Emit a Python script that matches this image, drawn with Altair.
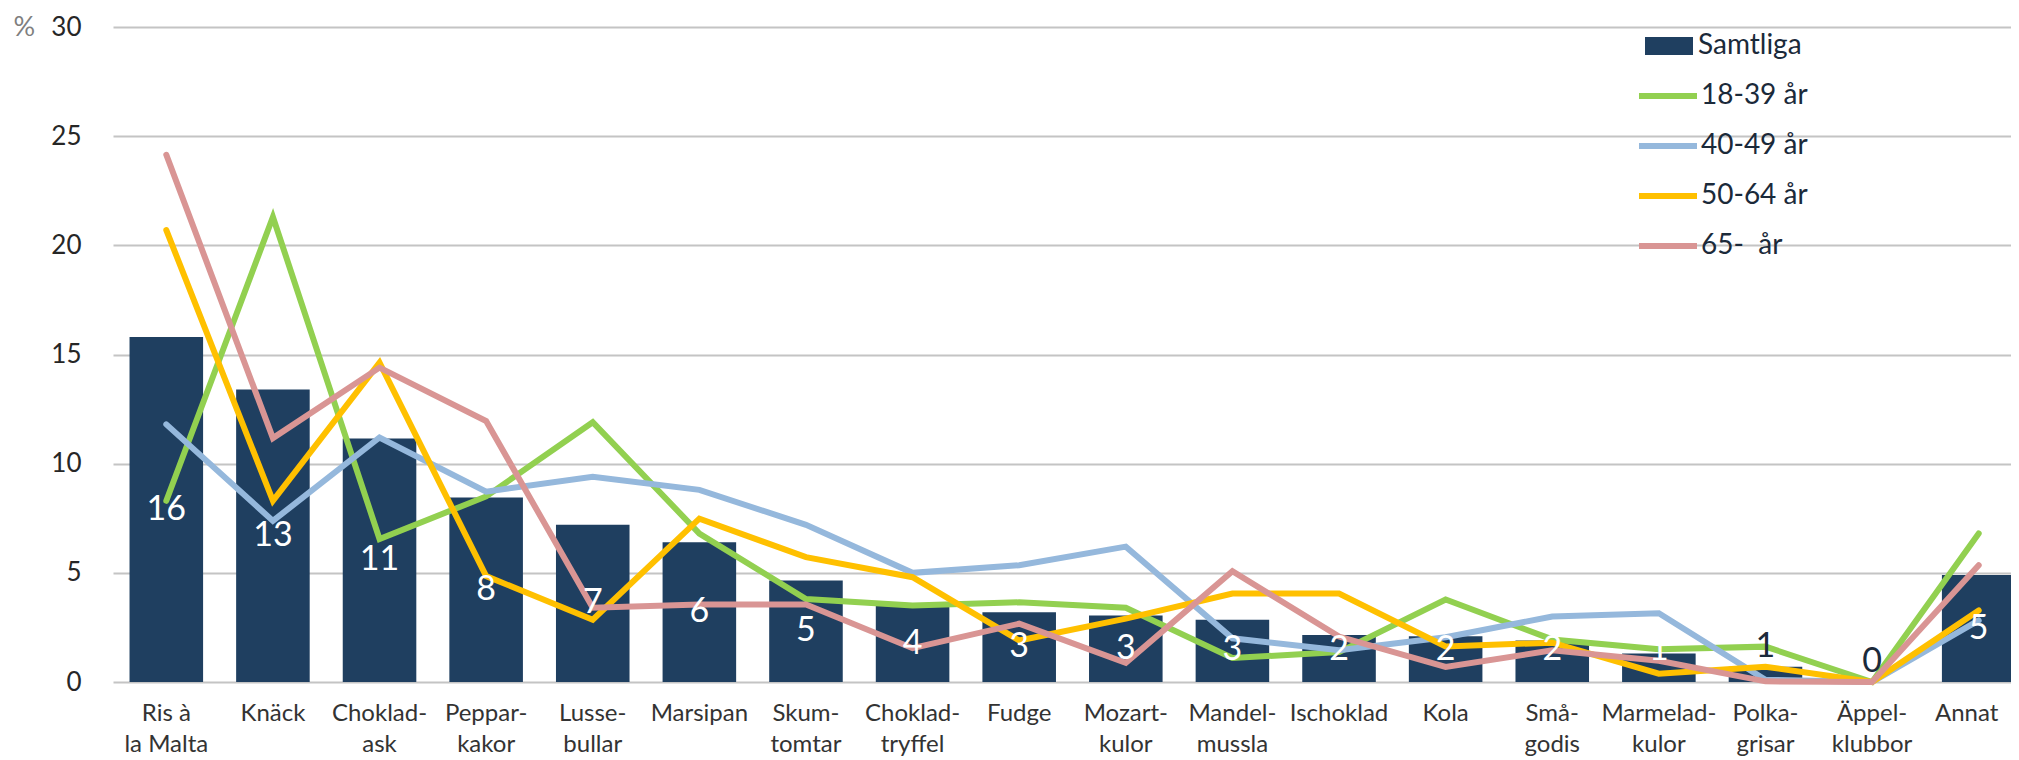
import altair as alt
import pandas as pd

# ---- data ----
categories = [
    "Ris à|la Malta", "Knäck", "Choklad-|ask", "Peppar-|kakor", "Lusse-|bullar",
    "Marsipan", "Skum-|tomtar", "Choklad-|tryffel", "Fudge", "Mozart-|kulor",
    "Mandel-|mussla", "Ischoklad", "Kola", "Små-|godis", "Marmelad-|kulor",
    "Polka-|grisar", "Äppel-|klubbor", "Annat",
]
samtliga = [15.8, 13.4, 11.15, 8.45, 7.2, 6.4, 4.65, 3.5, 3.2, 3.05,
            2.85, 2.15, 2.1, 1.9, 1.3, 0.7, 0.0, 4.9]
age_18_39 = [8.3, 21.3, 6.55, 8.5, 11.9, 6.8, 3.8, 3.5, 3.65, 3.4,
             1.1, 1.37, 3.78, 1.95, 1.5, 1.62, 0.0, 6.8]
age_40_49 = [11.8, 7.38, 11.2, 8.72, 9.4, 8.8, 7.2, 5.0, 5.35, 6.2,
             2.0, 1.45, 2.05, 3.0, 3.15, 0.1, 0.0, 2.82]
age_50_64 = [20.7, 8.3, 14.63, 4.85, 2.85, 7.48, 5.72, 4.8, 1.9, 2.9,
             4.05, 4.05, 1.63, 1.8, 0.38, 0.7, 0.0, 3.28]
age_65 = [24.15, 11.17, 14.4, 11.95, 3.4, 3.55, 3.55, 1.55, 2.67, 0.88,
          5.07, 2.08, 0.69, 1.45, 0.97, 0.03, 0.0, 5.35]

series_names = ["18-39 år", "40-49 år", "50-64 år", "65-\u00a0 år"]
series_colors = ["#92D050", "#95B8DC", "#FFC000", "#D99594"]
bar_name = "Samtliga"
bar_color = "#1F3F60"
y_ticks = [0, 5, 10, 15, 20, 25, 30]

# ---- tables ----
bar_df = pd.DataFrame({"cat": categories, "value": samtliga, "series": bar_name})
rows = []
for name, vals in zip(series_names, [age_18_39, age_40_49, age_50_64, age_65]):
    for i, (c, v) in enumerate(zip(categories, vals)):
        rows.append({"cat": c, "value": v, "series": name, "idx": i})
line_df = pd.DataFrame(rows)

FONT = "Lato"

x_enc = alt.X(
    "cat:N", sort=categories,
    scale=alt.Scale(paddingInner=0.31, paddingOuter=0.155),
    axis=alt.Axis(title=None, labelAngle=0, labelFontSize=24, labelColor="#333333",
                  labelPadding=19, labelLineHeight=31, ticks=False, domain=False,
                  labelOverlap=False, labelFont=FONT,
                  labelOffset={"expr": "datum.label == 'Annat' ? -12 : 0"},
                  labelExpr="split(datum.label, '|')"),
)
y_scale = alt.Scale(domain=[0, 30], nice=False)
y_axis = alt.Axis(values=y_ticks, title="%", titleAngle=0, titleX=-100, titleY=0,
                  titleAlign="left", titleBaseline="middle", titleColor="#7F7F7F",
                  titleFontSize=27, titleFontWeight="normal", titleFont=FONT,
                  labelFontSize=26, labelColor="#262626", labelPadding=32,
                  labelFont=FONT, ticks=False, domain=False,
                  gridColor="#C4C4C4", gridWidth=2)

bars = alt.Chart(bar_df).mark_bar().encode(
    x=x_enc,
    y=alt.Y("value:Q", scale=y_scale, axis=y_axis),
    fill=alt.Fill("series:N", scale=alt.Scale(domain=[bar_name], range=[bar_color]),
                  legend=alt.Legend(title=None, orient="none", legendX=1532, legendY=-5,
                                    symbolType="M-1,-0.375H1V0.375H-1Z", symbolSize=2304,
                                    symbolStrokeWidth=0, labelFontSize=28, labelFont=FONT,
                                    labelColor="#1B2A3A", labelOffset=5, padding=0)),
)

lines = alt.Chart(line_df).mark_line(strokeWidth=6, strokeCap="round").encode(
    x=x_enc,
    y=alt.Y("value:Q", scale=y_scale, axis=y_axis),
    stroke=alt.Stroke("series:N", sort=series_names,
                      scale=alt.Scale(domain=series_names, range=series_colors),
                      legend=alt.Legend(title=None, orient="none", legendX=1523, legendY=37,
                                        symbolType="stroke", symbolSize=3364,
                                        symbolStrokeWidth=6, labelFontSize=28,
                                        labelFont=FONT, labelColor="#1B2A3A",
                                        labelOffset=1, rowPadding=4, padding=0)),
    order="idx:O",
)

labels = alt.Chart(bar_df).transform_calculate(
    ly="datum.value < 1 ? datum.value + 0.9 : max(datum.value / 2, 1.45)"
).mark_text(fontSize=34, font=FONT, baseline="middle", align="center").encode(
    x=x_enc,
    y=alt.Y("ly:Q", scale=y_scale, axis=y_axis),
    text=alt.Text("value:Q", format=".0f"),
    color=alt.condition(alt.datum.value < 1, alt.value("#1B2A3A"), alt.value("white")),
)

chart = alt.layer(bars, lines, labels).properties(
    width=1919, height=655,
    padding={"left": 5, "top": 5, "right": -21, "bottom": 0},
    background="white",
).configure_view(stroke=None)

chart.save("out.html", embed_options={"renderer": "svg", "actions": False})
